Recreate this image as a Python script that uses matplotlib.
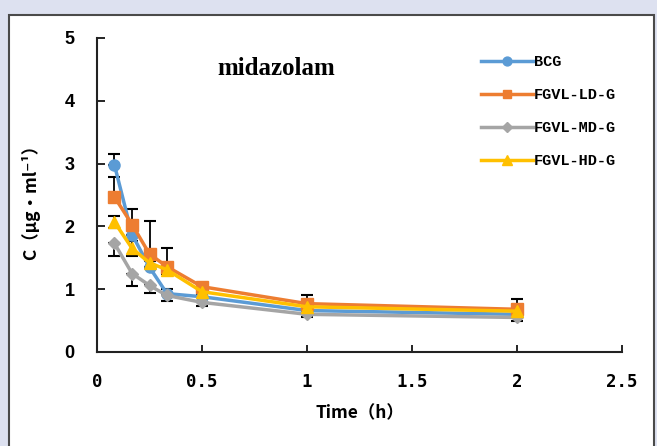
import matplotlib.pyplot as plt
from matplotlib.patches import Rectangle

# time points (h) and mean concentrations (ug/ml)
time_h = [0.083, 0.167, 0.25, 0.333, 0.5, 1, 2]
bcg = [2.98, 1.87, 1.35, 0.93, 0.88, 0.66, 0.60]
fgvl_ld = [2.47, 2.03, 1.56, 1.36, 1.04, 0.77, 0.68]
fgvl_md = [1.73, 1.25, 1.06, 0.90, 0.79, 0.60, 0.55]
fgvl_hd = [2.07, 1.65, 1.42, 1.31, 0.96, 0.72, 0.65]

# error bars (upper for the top series, lower for the bottom one)
bcg_err = [0.18, 0.15, 0.10, 0.08, 0.05, 0.05, 0.05]
ld_err = [0.32, 0.25, 0.53, 0.30, 0.06, 0.14, 0.16]
md_err = [0.20, 0.20, 0.12, 0.08, 0.05, 0.05, 0.06]
hd_err = [0.10, 0.12, 0.08, 0.06, 0.05, 0.05, 0.05]

series_names = ['BCG', 'FGVL-LD-G', 'FGVL-MD-G', 'FGVL-HD-G']
x_ticks = [0, 0.5, 1, 1.5, 2, 2.5]
x_tick_labels = ['0', '0.5', '1', '1.5', '2', '2.5']
y_ticks = [0, 1, 2, 3, 4, 5]

fig = plt.figure(figsize=(6.57, 4.46), dpi=100)
fig.patch.set_facecolor('#dde1f0')
panel = Rectangle((8.5 / 657, -0.01), (654 - 8.5) / 657, (446 - 15) / 446 + 0.01,
                  transform=fig.transFigure, facecolor='white',
                  edgecolor='#4a4a4a', linewidth=1.5, zorder=-10)
fig.patches.append(panel)

ax = fig.add_axes([97 / 657, 1 - 352 / 446, (622 - 97) / 657, (352 - 38) / 446])
ax.set_facecolor('none')

styles = [
    (bcg, bcg_err, '#5b9bd5', 'o', 8, (0, 1)),
    (fgvl_ld, ld_err, '#ed7d31', 's', 8, (0, 1)),
    (fgvl_md, md_err, '#a5a5a5', 'D', 6.5, (1, 0)),
    (fgvl_hd, hd_err, '#ffc000', '^', 9, (1, 1)),
]
for name, (vals, err, color, marker, ms, (lo, up)) in zip(series_names, styles):
    yerr = [[e * lo for e in err], [e * up for e in err]]
    ax.errorbar(time_h, vals, yerr=yerr, fmt='none', ecolor='black',
                elinewidth=1.3, capsize=4, capthick=1.5, zorder=2)
    ax.plot(time_h, vals, color=color, linewidth=2.5, marker=marker,
            markersize=ms, label=name, zorder=3)

ax.set_xlim(0, 2.5)
ax.set_ylim(0, 5)
ax.set_xticks(x_ticks)
ax.set_xticklabels(x_tick_labels)
ax.set_yticks(y_ticks)
for side in ['top', 'right']:
    ax.spines[side].set_visible(False)
for side in ['left', 'bottom']:
    ax.spines[side].set_linewidth(1.5)
    ax.spines[side].set_color('#222222')
ax.tick_params(axis='x', direction='in', length=5, width=1.2, pad=15)
ax.tick_params(axis='y', direction='in', length=6, width=1.2, pad=16)
for lab in ax.get_xticklabels():
    lab.set_fontfamily('DejaVu Sans Mono')
    lab.set_fontweight('bold')
    lab.set_fontsize(12.5)
for lab in ax.get_yticklabels():
    lab.set_fontfamily('Liberation Sans')
    lab.set_fontweight('bold')
    lab.set_fontsize(13)

ax.set_xlabel('Time（h）', fontsize=12.5, fontweight='bold',
              family=['Noto Sans CJK SC', 'DejaVu Sans'])
ax.xaxis.set_label_coords(0.5, -0.165)
ax.set_ylabel('C（μg·ml⁻¹）', fontsize=12.5, fontweight='bold',
              family=['Noto Sans CJK SC', 'DejaVu Sans'])
ax.yaxis.set_label_coords(-0.108, 0.49)

ax.text(0.341, 0.904, 'midazolam', transform=ax.transAxes, ha='center',
        va='center', fontsize=18, fontweight='bold', family='Liberation Serif')

leg = ax.legend(loc='upper left', bbox_to_anchor=(0.705, 0.99), frameon=False,
                numpoints=1, handlelength=3.4, handletextpad=0.05,
                labelspacing=1.25, markerscale=0.8,
                prop={'family': 'Liberation Mono', 'weight': 'bold', 'size': 11})

plt.savefig('out.png', dpi=100, facecolor=fig.get_facecolor())
